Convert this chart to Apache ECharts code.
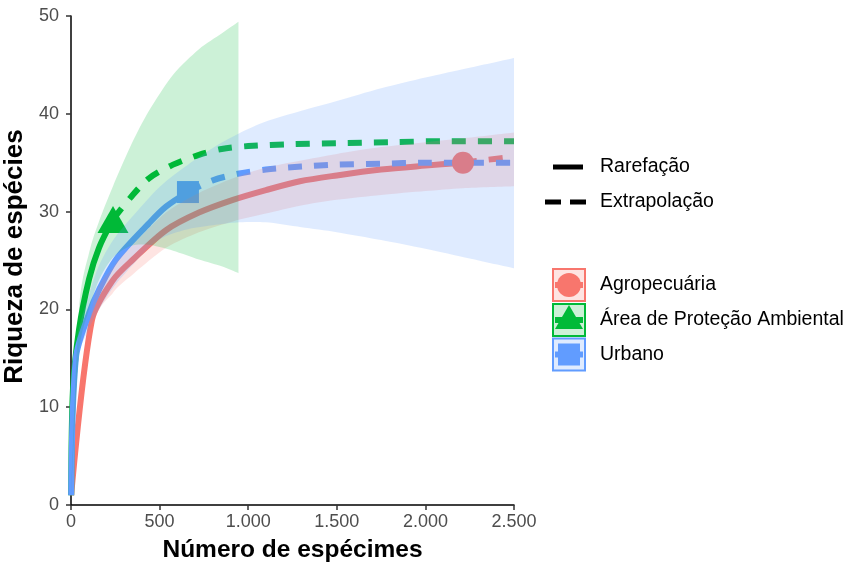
<!DOCTYPE html>
<html><head><meta charset="utf-8">
<script src="https://cdn.jsdelivr.net/npm/echarts@6/dist/echarts.min.js"></script>
<style>html,body{margin:0;padding:0;background:#fff}#c{width:848px;height:563px}</style>
</head><body><div id="c"></div>
<script>
// ---------- DATA ----------
const groupNames = ['Agropecuária', 'Área de Proteção Ambiental', 'Urbano'];
const methodNames = ['Rarefação', 'Extrapolação'];

const xTickValues = [0, 500, 1000, 1500, 2000, 2500];
const xTickLabels = ['0', '500', '1.000', '1.500', '2.000', '2.500'];
const yTickValues = [0, 10, 20, 30, 40, 50];
const yTickLabels = ['0', '10', '20', '30', '40', '50'];

// Agropecuária
const agroObsX = [1, 118, 237, 350, 536, 722, 914, 1100, 1292, 1500, 1750, 2000, 2212];
const agroObsY = [1.0, 18.9, 23.0, 25.1, 28.1, 29.9, 31.2, 32.2, 33.1, 33.7, 34.3, 34.7, 35.0];
const agroExtX = [2212, 2350, 2500];
const agroExtY = [35.0, 35.3, 35.6];
const agroBandX = [1, 118, 237, 350, 536, 722, 914, 1100, 1292, 1500, 1750, 2000, 2212, 2500];
const agroBandLow = [1.0, 17.8, 21.7, 23.6, 26.3, 27.9, 29.0, 29.8, 30.6, 31.2, 31.7, 32.1, 32.4, 32.6];
const agroBandHigh = [1.0, 20.0, 24.3, 26.6, 29.9, 31.9, 33.4, 34.5, 35.2, 35.9, 36.6, 37.1, 37.5, 38.1];

// Área de Proteção Ambiental
const apaObsX = [1, 11, 45, 102, 158, 237];
const apaObsY = [1.0, 11.8, 17.9, 23.1, 26.3, 29.2];
const apaExtX = [237, 339, 440, 576, 722, 850, 1000, 1250, 1500, 1800, 2100, 2500];
const apaExtY = [29.2, 31.5, 33.4, 34.8, 35.8, 36.4, 36.7, 36.9, 37.0, 37.1, 37.2, 37.2];
const apaBandX = [1, 45, 102, 158, 237, 339, 440, 576, 722, 850, 945];
const apaBandLow = [1.0, 15.5, 20.0, 23.0, 25.3, 26.5, 26.6, 26.0, 25.1, 24.4, 23.7];
const apaBandHigh = [1.0, 20.0, 25.8, 29.0, 32.6, 36.8, 40.3, 44.0, 46.6, 48.2, 49.4];

// Urbano
const urbObsX = [1, 28, 102, 158, 254, 440, 536, 660];
const urbObsY = [1.0, 15.1, 19.6, 22.0, 25.1, 28.8, 30.5, 32.0];
const urbExtX = [660, 800, 950, 1100, 1300, 1500, 1750, 2000, 2250, 2500];
const urbExtY = [32.0, 33.2, 33.9, 34.3, 34.6, 34.8, 34.9, 35.0, 35.0, 35.0];
const urbBandX = [1, 28, 102, 158, 254, 440, 536, 660, 800, 950, 1100, 1300, 1500, 1750, 2000, 2250, 2500];
const urbBandLow = [1.0, 14.0, 18.0, 20.0, 22.6, 26.3, 27.5, 28.2, 28.6, 28.9, 28.9, 28.4, 27.9, 27.1, 26.2, 25.2, 24.2];
const urbBandHigh = [1.0, 16.0, 21.5, 24.5, 27.5, 31.4, 33.1, 34.8, 36.5, 38.0, 39.2, 40.3, 41.3, 42.6, 43.7, 44.7, 45.7];

// ---------- STYLE ----------
const FONT = '"Liberation Sans", Arial, Helvetica, sans-serif';
const colors = ['#F8766D', '#00BA38', '#619CFF'];
const bandColors = ['rgba(248,118,109,0.2)', 'rgba(0,186,56,0.2)', 'rgba(97,156,255,0.2)'];
const markerSymbols = ['circle', 'triangle', 'rect'];
const markerSizes = [22, [31, 27], 22];

const groups = [
  {obsX: agroObsX, obsY: agroObsY, extX: agroExtX, extY: agroExtY, bX: agroBandX, bL: agroBandLow, bH: agroBandHigh},
  {obsX: apaObsX, obsY: apaObsY, extX: apaExtX, extY: apaExtY, bX: apaBandX, bL: apaBandLow, bH: apaBandHigh},
  {obsX: urbObsX, obsY: urbObsY, extX: urbExtX, extY: urbExtY, bX: urbBandX, bL: urbBandLow, bH: urbBandHigh}
];
const pairs = (xs, ys) => xs.map((x, i) => [x, ys[i]]);

// Catmull-Rom spline through pixel points -> SVG path segments
function splinePath(pts, start) {
  let d = start ? ('M' + pts[0][0] + ',' + pts[0][1]) : ('L' + pts[0][0] + ',' + pts[0][1]);
  const t = 0.8;
  for (let i = 0; i < pts.length - 1; i++) {
    const p0 = pts[i - 1] || pts[i], p1 = pts[i], p2 = pts[i + 1], p3 = pts[i + 2] || p2;
    const c1x = p1[0] + (p2[0] - p0[0]) / 6 * t, c1y = p1[1] + (p2[1] - p0[1]) / 6 * t;
    const c2x = p2[0] - (p3[0] - p1[0]) / 6 * t, c2y = p2[1] - (p3[1] - p1[1]) / 6 * t;
    d += 'C' + c1x + ',' + c1y + ',' + c2x + ',' + c2y + ',' + p2[0] + ',' + p2[1];
  }
  return d;
}

const series = [];
groups.forEach((g, i) => {
  series.push({
    type: 'line', name: groupNames[i] + ' ' + methodNames[0], data: pairs(g.obsX, g.obsY),
    smooth: 0.3, symbol: 'none', z: 2, silent: true,
    lineStyle: {color: colors[i], width: 6, cap: 'butt', join: 'round'}
  });
  series.push({
    type: 'line', name: groupNames[i] + ' ' + methodNames[1], data: pairs(g.extX, g.extY),
    smooth: 0.3, symbol: 'none', z: 2, silent: true,
    lineStyle: {color: colors[i], width: 6, type: [14, 12], cap: 'butt', join: 'round'}
  });
  series.push({
    type: 'scatter', name: groupNames[i],
    data: [[g.obsX[g.obsX.length - 1], g.obsY[g.obsY.length - 1]]],
    symbol: markerSymbols[i], symbolSize: markerSizes[i], z: 2, silent: true,
    itemStyle: {color: colors[i], opacity: 1}
  });
});
groups.forEach((g, i) => {
  series.push({
    type: 'custom', name: groupNames[i] + ' IC', silent: true, z: 3, clip: true,
    coordinateSystem: 'cartesian2d',
    data: g.bX.map((x, k) => [x, g.bL[k], g.bH[k]]),
    encode: {x: 0, y: [1, 2]},
    renderItem: function (params, api) {
      if (params.dataIndex !== 0) return null;
      const up = g.bX.map((x, k) => api.coord([x, g.bH[k]]));
      const lo = g.bX.map((x, k) => api.coord([x, g.bL[k]])).reverse();
      const d = splinePath(up, true) + splinePath(lo, false) + 'Z';
      return {type: 'path', shape: {pathData: d}, style: {fill: bandColors[i], stroke: null}};
    }
  });
});

// ---------- LEGEND (graphic) ----------
const LX = 552, LT = 600, LFONT = '19.5px ' + FONT;
const graphic = [];
graphic.push({type: 'line', shape: {x1: 553, y1: 167, x2: 583, y2: 167}, style: {stroke: '#000', lineWidth: 5}});
graphic.push({type: 'text', x: LT, y: 167, style: {text: methodNames[0], font: LFONT, fill: '#000', verticalAlign: 'middle'}});
graphic.push({type: 'line', shape: {x1: 545, y1: 202, x2: 587, y2: 202}, style: {stroke: '#000', lineWidth: 5, lineDash: [16, 9]}});
graphic.push({type: 'text', x: LT, y: 202, style: {text: methodNames[1], font: LFONT, fill: '#000', verticalAlign: 'middle'}});
const keyCY = [285, 320, 354.5];
groupNames.forEach((name, i) => {
  const cy = keyCY[i];
  graphic.push({type: 'rect', shape: {x: LX + 1, y: cy - 16, width: 32, height: 32}, style: {fill: bandColors[i], stroke: colors[i], lineWidth: 2}});
  graphic.push({type: 'line', shape: {x1: LX + 3, y1: cy, x2: LX + 31, y2: cy}, style: {stroke: colors[i], lineWidth: 6}});
  if (i === 0) graphic.push({type: 'circle', shape: {cx: LX + 17, cy: cy, r: 12}, style: {fill: colors[i]}});
  if (i === 1) graphic.push({type: 'polygon', shape: {points: [[LX + 17, cy - 15], [LX + 3, cy + 9], [LX + 31, cy + 9]]}, style: {fill: colors[i]}});
  if (i === 2) graphic.push({type: 'rect', shape: {x: LX + 6, y: cy - 11, width: 22, height: 22}, style: {fill: colors[i]}});
  graphic.push({type: 'text', x: LT, y: cy, style: {text: name, font: LFONT, fill: '#000', verticalAlign: 'middle'}});
});

const chart = echarts.init(document.getElementById('c'), null, {renderer: 'canvas'});
chart.setOption({
  animation: false,
  backgroundColor: '#fff',
  grid: {left: 71, right: 334, top: 16, bottom: 58, containLabel: false, outerBoundsMode: 'none'},
  xAxis: {
    type: 'value', min: 0, max: 2500, interval: 500,
    name: 'Número de espécimes', nameLocation: 'middle', nameGap: 33,
    nameTextStyle: {fontFamily: FONT, fontSize: 24.5, fontWeight: 'bold', color: '#000'},
    axisLine: {show: true, onZero: false, lineStyle: {color: '#000', width: 1.5}},
    axisTick: {show: true, length: 5, lineStyle: {color: '#333', width: 1.5}},
    splitLine: {show: false},
    axisLabel: {fontFamily: FONT, fontSize: 18, color: '#4D4D4D', margin: 8,
      formatter: v => { const k = xTickValues.indexOf(v); return k >= 0 ? xTickLabels[k] : ''; }}
  },
  yAxis: {
    type: 'value', min: 0, max: 50, interval: 10,
    name: 'Riqueza de espécies', nameLocation: 'middle', nameGap: 29,
    nameTextStyle: {fontFamily: FONT, fontSize: 26, fontWeight: 'bold', color: '#000', padding: [0, 0, 0, 8]},
    axisLine: {show: true, onZero: false, lineStyle: {color: '#000', width: 1.5}},
    axisTick: {show: true, length: 5, lineStyle: {color: '#333', width: 1.5}},
    splitLine: {show: false},
    axisLabel: {fontFamily: FONT, fontSize: 18, color: '#4D4D4D', margin: 12,
      formatter: v => { const k = yTickValues.indexOf(v); return k >= 0 ? yTickLabels[k] : ''; }}
  },
  series: series,
  graphic: graphic
});
</script></body></html>
